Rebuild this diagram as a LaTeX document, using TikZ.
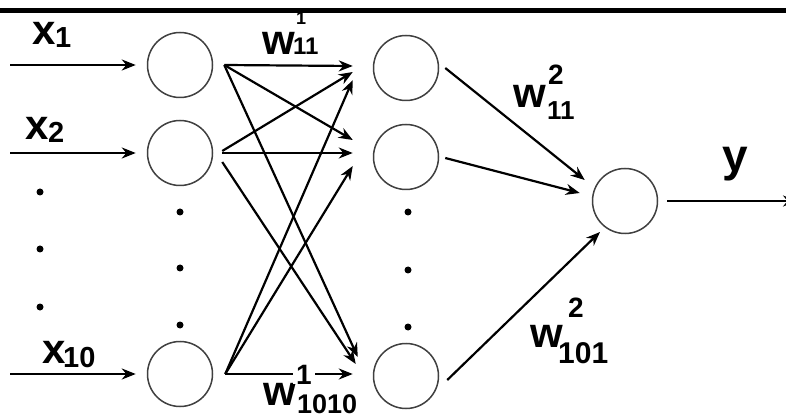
\documentclass[tikz,border=0pt]{standalone}
\usepackage{fontspec}
\setmainfont{Liberation Sans}
\usetikzlibrary{arrows.meta,calc}
\begin{document}
\begin{tikzpicture}[x=1pt,y=-1pt,
  neuron/.style={circle,draw=black!75,line width=1.5pt,minimum size=65pt,inner sep=0pt},
  conn/.style={line width=2.2pt,-{Stealth[length=14pt,width=11pt]}},
  big/.style={font=\fontsize{42}{42}\selectfont\bfseries,inner sep=0pt,anchor=base west},
  small/.style={font=\fontsize{29}{29}\selectfont\bfseries,inner sep=0pt,anchor=base west},
  dotmark/.style={circle,fill=black,inner sep=0pt,minimum size=7pt}]
\useasboundingbox (0,0) rectangle (786,419);
\fill[white] (0,0) rectangle (786,419);

% neurons
\node[neuron] (i1) at (180,65) {};
\node[neuron] (i2) at (180,153) {};
\node[neuron] (i10) at (180,374) {};
\node[neuron] (h1) at (406,68) {};
\node[neuron] (h2) at (406,157) {};
\node[neuron] (h10) at (406,376) {};
\node[neuron] (o) at (625,201) {};

% dots
\foreach \n/\px/\py in {a1/40/192,a2/40/249,a3/40/307,b1/180/212,b2/180/268,b3/180/325,c1/408/212,c2/408/270,c3/408/327}
  \node[dotmark] (d\n) at (\px,\py) {};

% input arrows
\coordinate (s1) at (10,65);
\coordinate (s2) at (10,153);
\coordinate (s10) at (10,374);
\draw[conn] (s1) -- ($(i1.west)+(-11,0)$);
\draw[conn] (s2) -- ($(i2.west)+(-11,0)$);
\draw[conn] (s10) -- ($(i10.west)+(-11,0)$);

% input -> hidden
\draw[conn] ($(i1.east)+(11,0)$) -- ($(h1.west)+(-20,-2)$);
\draw[conn] ($(i1.east)+(11,0)$) -- ($(h2.west)+(-20,-17)$);
\draw[conn] ($(i1.east)+(11,0)$) -- ($(h10.west)+(-15,-19)$);
\draw[conn] ($(i2.east)+(9,-2)$) -- ($(h1.west)+(-20,4)$);
\draw[conn] ($(i2.east)+(9,0)$) -- ($(h2.west)+(-20,-4)$);
\draw[conn] ($(i2.east)+(9,9)$) -- ($(h10.west)+(-17,-12)$);
\draw[conn] ($(i10.east)+(12,0)$) -- ($(h1.west)+(-20,12)$);
\draw[conn] ($(i10.east)+(12,0)$) -- ($(h2.west)+(-20,9)$);
\draw[conn] ($(i10.east)+(12,0)$) -- ($(h10.west)+(-20,-2)$);

% hidden -> output
\draw[conn] ($(h1.east)+(6,0)$) -- ($(o.west)+(-7,-21)$);
\draw[conn] ($(h2.east)+(6,1)$) -- ($(o.west)+(-12,-8)$);
\draw[conn] ($(h10.east)+(8,4)$) -- ($(o.center)+(-25,31)$);
\coordinate (yend) at (797,201);
\draw[conn] ($(o.east)+(9,0)$) -- (yend);

% labels
\node[big] (lx1) at (32,45) {x};
\node[small] (lx1s) at (55,48) {1};
\node[big] (lx2) at (25,140) {x};
\node[small] (lx2s) at (48,143) {2};
\node[big] (lx10) at (42,363) {x};
\node[small] (lx10s) at (63,367) {10};
\node[big,font=\fontsize{46}{46}\selectfont\bfseries] (ly) at (722,172) {y};

\node[big] (wa) at (262,55) {w};
\node[small,font=\fontsize{24}{24}\selectfont\bfseries] (was) at (293,55) {11};
\node[small,font=\fontsize{18}{18}\selectfont\bfseries] (wap) at (296,25) {1};

\node[big] (wb) at (513,108) {w};
\node[small,font=\fontsize{26}{26}\selectfont\bfseries] (wbs) at (547,120) {11};
\node[small,font=\fontsize{28}{28}\selectfont\bfseries] (wbp) at (548,85) {2};

\node[big] (wc) at (263,405) {w};
\node[small,font=\fontsize{27}{27}\selectfont\bfseries] (wcs) at (297,413) {1010};
\node[small,font=\fontsize{28}{28}\selectfont\bfseries,fill=white,inner xsep=3pt] (wcp) at (293,384) {1};

\node[big] (wd) at (530,347) {w};
\node[small,font=\fontsize{30}{30}\selectfont\bfseries] (wds) at (558,363) {101};
\node[small,font=\fontsize{28}{28}\selectfont\bfseries] (wdp) at (568,317) {2};

% top rule
\draw[line width=4.5pt] (0,10.5) -- (786,10.5);
\end{tikzpicture}
\end{document}
